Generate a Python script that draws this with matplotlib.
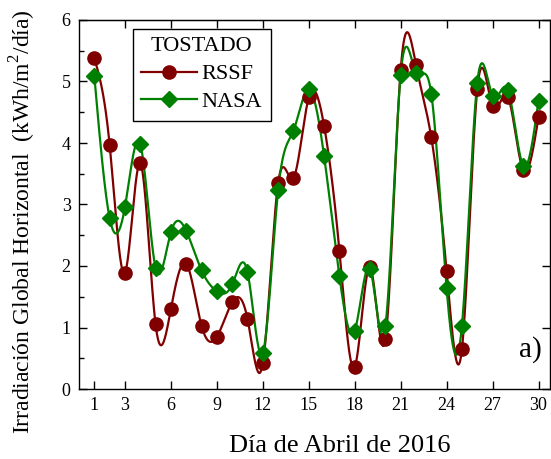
import numpy as np
import matplotlib
matplotlib.use("Agg")
import matplotlib.pyplot as plt
from matplotlib.ticker import MultipleLocator

days = list(range(1, 31))
rssf = [5.38, 3.97, 1.89, 3.67, 1.05, 1.30, 2.04, 1.03, 0.85, 1.41,
        1.14, 0.42, 3.35, 3.43, 4.74, 4.28, 2.25, 0.36, 1.98, 0.81,
        5.18, 5.27, 4.09, 1.92, 0.65, 4.87, 4.60, 4.75, 3.56, 4.42]
nasa = [5.09, 2.78, 2.96, 3.98, 1.97, 2.55, 2.57, 1.93, 1.59, 1.70,
        1.90, 0.59, 3.23, 4.20, 4.87, 3.79, 1.84, 0.95, 1.95, 1.02,
        5.11, 5.14, 4.80, 1.64, 1.03, 4.98, 4.77, 4.86, 3.63, 4.69]
xticks = [1, 3, 6, 9, 12, 15, 18, 21, 24, 27, 30]
top_ticks = [3, 6, 9, 12, 15, 18, 21, 24, 27, 30]


def natural_spline(x, y, n=1500):
    x = np.asarray(x, float)
    y = np.asarray(y, float)
    m = len(x)
    h = np.diff(x)
    A = np.zeros((m, m))
    b = np.zeros(m)
    A[0, 0] = 1
    A[-1, -1] = 1
    for i in range(1, m - 1):
        A[i, i - 1] = h[i - 1]
        A[i, i] = 2 * (h[i - 1] + h[i])
        A[i, i + 1] = h[i]
        b[i] = 3 * ((y[i + 1] - y[i]) / h[i] - (y[i] - y[i - 1]) / h[i - 1])
    c = np.linalg.solve(A, b)
    bb = (np.diff(y) / h) - h * (2 * c[:-1] + c[1:]) / 3
    d = (c[1:] - c[:-1]) / (3 * h)
    xs = np.linspace(x[0], x[-1], n)
    idx = np.clip(np.searchsorted(x, xs) - 1, 0, m - 2)
    dx = xs - x[idx]
    ys = y[idx] + bb[idx] * dx + c[idx] * dx ** 2 + d[idx] * dx ** 3
    return xs, ys


plt.rcParams['font.family'] = ['Liberation Serif', 'DejaVu Serif']
plt.rcParams['mathtext.fontset'] = 'custom'
plt.rcParams['mathtext.rm'] = 'Liberation Serif'

fig = plt.figure(figsize=(5.51, 4.59), dpi=100)
ax = fig.add_axes([79 / 551, (459 - 389) / 459, (550 - 79) / 551, (389 - 20) / 459])

red = '#800000'
green = '#008000'

xs, ys = natural_spline(days, rssf)
ax.plot(xs, ys, color=red, lw=1.6, zorder=2)
xs2, ys2 = natural_spline(days, nasa)
ax.plot(xs2, ys2, color=green, lw=1.6, zorder=3)
ax.plot(days, rssf, 'o', color=red, ms=9.5, zorder=4)
ax.plot(days, nasa, 'D', color=green, ms=8.5, zorder=5)

# legend handles
h1, = ax.plot([], [], '-o', color=red, lw=1.6, ms=9.5, label='RSSF')
h2, = ax.plot([], [], '-D', color=green, lw=1.6, ms=8.5, label='NASA')

ax.set_xlim(0, 30.75)
ax.set_ylim(0, 6)
ax.set_xticks(xticks)
ax.set_yticks([0, 1, 2, 3, 4, 5, 6])
ax.yaxis.set_minor_locator(MultipleLocator(0.5))
ax.tick_params(axis='both', which='major', direction='in', length=6, width=1,
               labelsize=13, pad=6)
ax.tick_params(axis='y', which='minor', direction='in', length=3.5, width=1)
ax.tick_params(axis='y', which='major', right=True)
for s in ax.spines.values():
    s.set_linewidth(1.0)

sec = ax.secondary_xaxis('top')
sec.set_xticks(top_ticks)
sec.tick_params(direction='in', length=6, width=1, labeltop=False)

ax.set_xlabel('Día de Abril de 2016', fontsize=19, labelpad=15)
ax.xaxis.label.set_x(0.554)
ax.set_ylabel('Irradiación Global Horizontal  (kWh/m$^2$/día)', fontsize=17, labelpad=17)
ax.yaxis.label.set_y(0.455)

ax.text(530, 459 - 350, 'a)', fontsize=21, ha='center', va='center',
        transform=None)

leg = ax.legend(handles=[h1, h2], title='TOSTADO', fontsize=16, title_fontsize=16,
                loc='upper left', bbox_to_anchor=(133 / 551, 1 - 29 / 459),
                bbox_transform=fig.transFigure, frameon=True, fancybox=False,
                edgecolor='black', framealpha=1, handlelength=2.5,
                borderpad=0.38, labelspacing=0.33, handletextpad=0.2,
                borderaxespad=0)
leg.get_frame().set_linewidth(1.0)

fig.savefig('out.png', dpi=100)
